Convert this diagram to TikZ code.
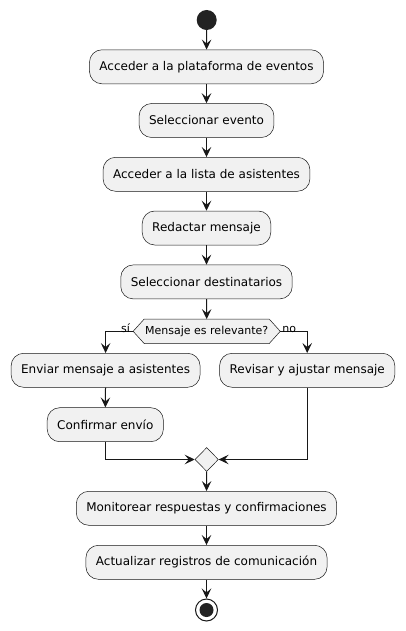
\documentclass[tikz,border=0pt]{standalone}
\usepackage{fontspec}
\setmainfont{DejaVu Sans}
\usetikzlibrary{shapes.geometric,arrows.meta}
\definecolor{cline}{HTML}{181818}
\definecolor{cfill}{HTML}{F1F1F1}
\definecolor{cdot}{HTML}{222222}
\begin{document}
\begin{tikzpicture}[x=1pt,y=-1pt,
  act/.style={draw=cline,fill=cfill,line width=0.5pt,rounded corners=12.5pt,
    minimum height=34pt,inner xsep=10pt,inner ysep=0pt,
    font=\fontsize{12}{14}\selectfont,text=black},
  arr/.style={draw=cline,line width=1pt,-{Stealth[length=10pt,width=9.5pt,inset=4pt]}},
  lbl/.style={font=\fontsize{11}{13}\selectfont,inner sep=0pt,text=black}]
\useasboundingbox (0,0) rectangle (405,631);
\fill[white] (0,0) rectangle (405,631);
% start
\node[circle,fill=cdot,minimum size=20pt,inner sep=0pt] (start) at (206.7,20) {};
\node[act] (b1) at (206.5,66.8) {Acceder a la plataforma de eventos};
\node[act] (b2) at (206.5,120.5) {Seleccionar evento};
\node[act] (b3) at (206.5,174.3) {Acceder a la lista de asistentes};
\node[act] (b4) at (206.5,228) {Redactar mensaje};
\node[act] (b5) at (206.5,281.9) {Seleccionar destinatarios};
% decision hexagon
\node[minimum width=146.7pt,minimum height=24pt,inner sep=0pt,
  font=\fontsize{11}{13}\selectfont] (dec) at (206.7,331.3) {};
\draw[draw=cline,fill=cfill,line width=0.5pt]
  (dec.west) -- ([xshift=11pt]dec.north west) -- ([xshift=-11pt]dec.north east)
  -- (dec.east) -- ([xshift=-11pt]dec.south east) -- ([xshift=11pt]dec.south west) -- cycle;
\node[font=\fontsize{11}{13}\selectfont,inner sep=0pt,text=black] at (dec.center) {Mensaje es relevante?};
\node[act] (send) at (105.6,370.3) {Enviar mensaje a asistentes};
\node[act] (rev) at (307.2,370.3) {Revisar y ajustar mensaje};
\node[act] (conf) at (105.3,424.7) {Confirmar envío};
\node[diamond,draw=cline,fill=cfill,line width=0.5pt,minimum width=23.4pt,
  minimum height=24pt,inner sep=0pt] (merge) at (206.7,459.5) {};
\node[act] (mon) at (206.5,508.3) {Monitorear respuestas y confirmaciones};
\node[act] (upd) at (206.5,562.3) {Actualizar registros de comunicación};
\node[circle,draw=cline,fill=white,line width=1pt,minimum size=22pt,inner sep=0pt] (end) at (206.5,610) {};
\fill[cdot] (end.center) circle (7pt);
% connectors
\draw[arr] (start) -- (b1);
\draw[arr] (b1) -- (b2);
\draw[arr] (b2) -- (b3);
\draw[arr] (b3) -- (b4);
\draw[arr] (b4) -- (b5);
\draw[arr] (b5) -- (dec.north);
\draw[arr] (dec.west) -| (send.north);
\draw[arr] (dec.east) -| (rev.north);
\draw[arr] (send) -- (conf);
\draw[arr] (conf.south) |- (merge.west);
\draw[arr] (rev.south) |- (merge.east);
\draw[arr] (merge) -- (mon);
\draw[arr] (mon) -- (upd);
\draw[arr] (upd) -- (end);
\node[lbl,anchor=south east] at ([xshift=-3pt,yshift=-2pt]dec.west) {sí};
\node[lbl,anchor=south west] at ([xshift=2pt,yshift=-2pt]dec.east) {no};
\end{tikzpicture}
\end{document}
